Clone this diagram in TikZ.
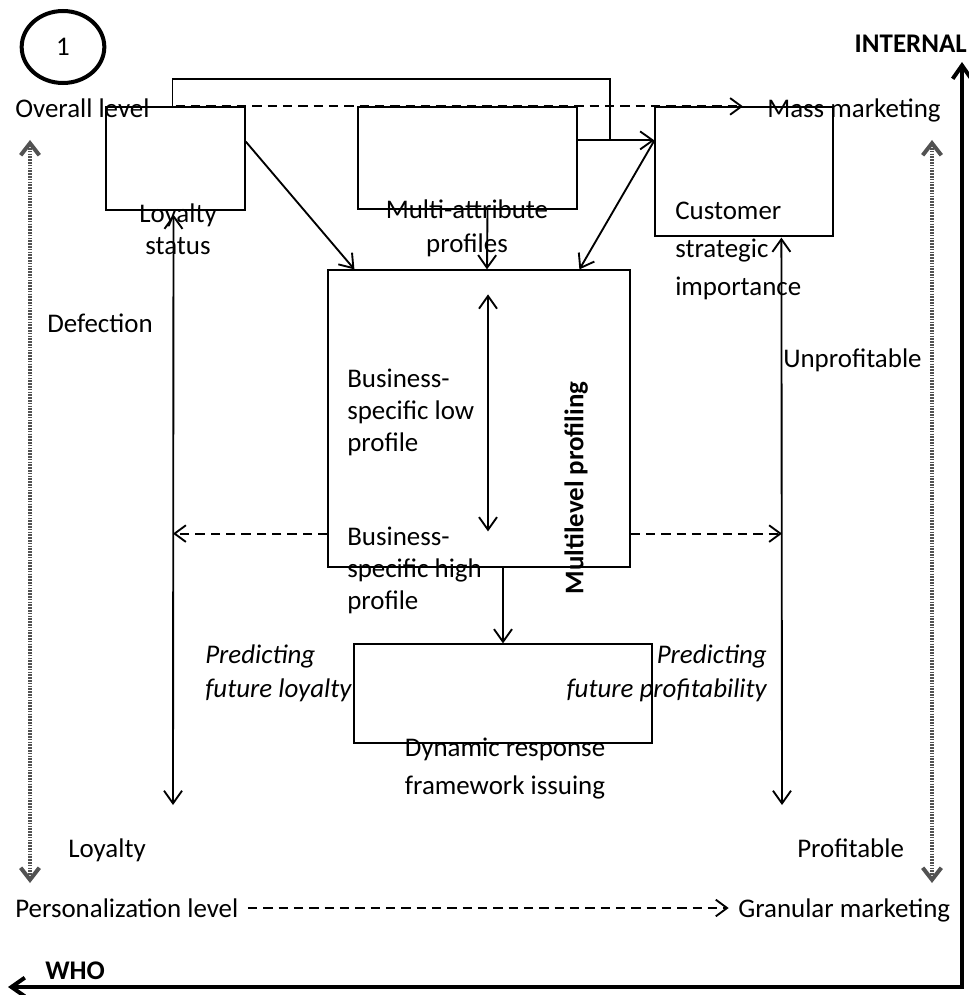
\documentclass[tikz,border=0pt]{standalone}
\usepackage{fontspec}
\setmainfont{Carlito}
\usetikzlibrary{arrows.meta,shapes.geometric,fit,calc}
\newcommand\lblfont{\fontsize{20.2}{24}\selectfont}
% line strut: keeps every text line the same height and depth
\newcommand\lstrut{\rule[-5pt]{0pt}{24pt}}
\begin{document}
\begin{tikzpicture}[x=0.75pt,y=-0.75pt,
  every node/.style={font=\lblfont, inner sep=0pt},
  lbl/.style={execute at begin node=\lstrut},
  box/.style={draw, line width=0.9pt, inner sep=0pt},
  conn/.style={line width=1.4pt, -{Straight Barb[length=9.5pt,width=13.5pt]}},
  twoway/.style={line width=1.4pt, {Straight Barb[length=9.5pt,width=13.5pt]}-{Straight Barb[length=9.5pt,width=13.5pt]}},
  dash line/.style={line width=1.4pt, dash pattern=on 7pt off 4.5pt, -{Straight Barb[length=8.5pt,width=12.5pt]}},
  scale line/.style={draw=black!68, line width=3pt, dash pattern=on 1.2pt off 0.9pt,
    {Straight Barb[length=9pt,width=14pt]}-{Straight Barb[length=9pt,width=14pt]}},
  axis/.style={line width=3pt, line join=miter,
    {Straight Barb[length=10pt,width=14pt]}-{Straight Barb[length=10pt,width=14pt]}}
]
\useasboundingbox (0,0) rectangle (969,995);

% boxes
\node[box, fit={(106,107) (245,210)}] (loy) {};
\node[box, fit={(358,107) (577,209)}] (mul) {};
\node[box, fit={(655,107) (833,236)}] (cus) {};
\node[box, fit={(328,270) (630,567)}] (mlp) {};
\node[box, fit={(354,644) (652,743)}] (dyn) {};

% numbered badge
\node[draw, ellipse, line width=3pt, minimum width=62pt, minimum height=54pt] (num) at (63,47) {1};

% labels
\node[lbl, anchor=west] (ovl) at (15,108) {Overall level};
\node[lbl, anchor=west] (mm) at (767,108) {Mass marketing};
\node[lbl, anchor=east, font=\lblfont\bfseries] (internal) at (967,43) {INTERNAL};
\node[lbl, align=center] (loyt) at (178,229) {\lstrut Loyalty\\\lstrut status};
\node[lbl, align=center] (mat) at (467,226) {\lstrut Multi-attribute\\[2pt]\lstrut profiles};
\node[lbl, anchor=west, align=left] (cst) at (675,248) {\lstrut Customer\\[4.5pt]\lstrut strategic\\[4.5pt]\lstrut importance};
\node[lbl, anchor=west] (def) at (47,323) {Defection};
\node[lbl, anchor=west] (unp) at (783,358) {Unprofitable};
\node[lbl, anchor=west, align=left] (bsl) at (347,410) {\lstrut Business-\\\lstrut specific low\\\lstrut profile};
\node[lbl, anchor=west, align=left] (bsh) at (347,568) {\lstrut Business-\\\lstrut specific high\\\lstrut profile};
\node[lbl, rotate=90, font=\lblfont\bfseries] (mlt) at (574,488) {Multilevel profiling};
\node[lbl, anchor=west, align=left, font=\lblfont\itshape] (pfl) at (205,671) {\lstrut Predicting\\[1pt]\lstrut future loyalty};
\node[lbl, anchor=east, align=right, font=\lblfont\itshape] (pfp) at (767,671) {\lstrut Predicting\\[1pt]\lstrut future profitability};
\node[lbl, align=center] (drf) at (505,766) {\lstrut Dynamic response\\[4.5pt]\lstrut framework issuing};
\node[lbl, anchor=west] (loyb) at (68,848) {Loyalty};
\node[lbl, anchor=west] (prof) at (797,848) {Profitable};
\node[lbl, anchor=west] (pl) at (15,908) {Personalization level};
\node[lbl, anchor=west] (gm) at (738,908) {Granular marketing};
\node[lbl, anchor=west, font=\lblfont\bfseries] (who) at (45,970) {WHO};

% attachment points
\coordinate (lout) at ($(loy.north east)+(0,35)$);
\coordinate (mout) at ($(mul.north east)+(0,34)$);
\coordinate (cin)  at ($(cus.north west)+(0,34)$);
\coordinate (bend) at (610,79);
\coordinate (lbot) at (173,805);
\coordinate (rbot) at (782,805);
\coordinate (mlL) at ($(mlp.south west)+(0,-34)$);
\coordinate (mlR) at ($(mlp.south east)+(0,-34)$);

% connectors between the boxes
\draw[line width=0.9pt] ($(loy.north)+(-3,0)$) |- (bend) -- (bend |- cin);
\draw[conn] (mout) -- (cin);
\draw[conn] (lout) -- ($(mlp.north west)+(27,0)$);
\draw[conn] ($(mul.south)+(20,0)$) -- ($(mlp.north)+(8,0)$);
\draw[conn] (cin) -- ($(mlp.north west)+(252,0)$);
\draw[twoway] ($(mlp.north)+(9,25)$) -- ($(mlp.north)+(9,262)$);
\draw[conn] ($(mlp.south)+(24,0)$) -- (dyn.north);

% loyalty and profitability ranges
\draw[twoway] ($(loy.south)+(-2,4)$) -- (lbot);
\draw[twoway] ($(cus.south west)+(127,1)$) -- (rbot);
\draw[dash line] (mlL) -- (mlL -| lbot);
\draw[dash line] (mlR) -- (mlR -| rbot);

% marketing level arrows
\draw[dash line, shorten >=18pt] (loy.north) -- (loy.north -| mm.west);
\draw[dash line, shorten <=7pt, shorten >=7pt] (pl.east) -- (gm.west);

% dotted scales
\coordinate (sL1) at (30,140);
\coordinate (sL2) at (30,883);
\coordinate (sR1) at (932,140);
\coordinate (sR2) at (932,883);
\draw[scale line] (sL1) -- (sL2);
\draw[scale line] (sR1) -- (sR2);

% axes
\coordinate (corner) at (962,987);
\coordinate (whoend) at (8,987);
\coordinate (intend) at (962,62);
\draw[axis] (whoend) -- (corner) -- (intend);
\end{tikzpicture}
\end{document}
